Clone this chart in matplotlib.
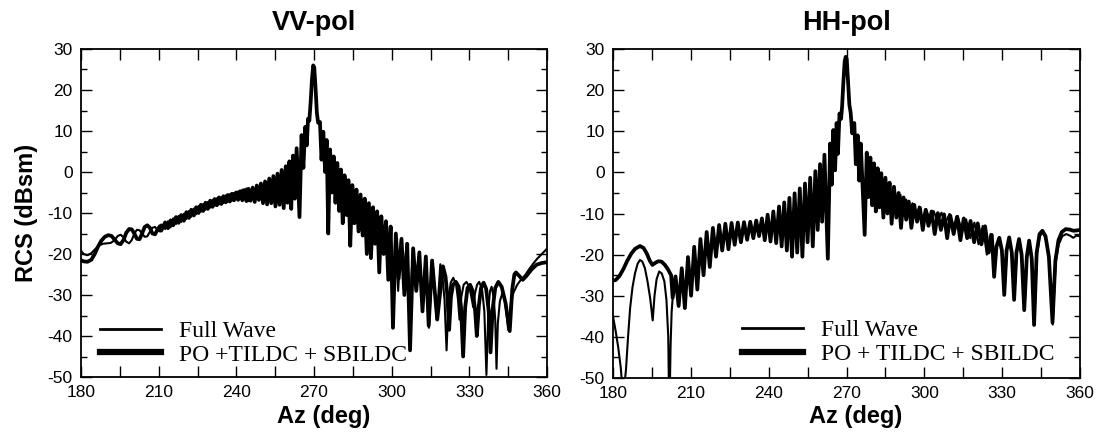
import numpy as np
import matplotlib
matplotlib.use("Agg")
import matplotlib.pyplot as plt
from matplotlib.ticker import MultipleLocator

plt.rcParams['axes.unicode_minus'] = False

# ---------------- VV-pol data (azimuth deg, RCS dBsm) ----------------
vv_po_left_az = [180, 181, 182.5, 184, 185.3, 186.5, 187.8, 189.2, 190.5, 191.8,
                 193, 194.2, 195.3, 196.4, 197.5, 198.6, 199.6, 200.6, 201.6, 202.6,
                 203.6, 204.6, 205.6, 206.6, 207.6, 208.6, 209.6, 210.5]
vv_po_left_db = [-21.5, -21.8, -21.9, -21.4, -20.0, -18.3, -16.8, -15.8, -15.4, -15.6,
                 -16.5, -17.4, -17.6, -16.6, -14.8, -13.9, -14.0, -15.0, -16.3, -16.4,
                 -15.0, -13.4, -13.0, -13.6, -15.0, -15.2, -14.0, -13.2]
vv_fw_left_az = [180, 181, 182.5, 184, 185.5, 187, 188.5, 190, 191.5, 193,
                 194.2, 195.3, 196.4, 197.5, 198.6, 199.6, 200.6, 201.6, 202.6, 203.6,
                 204.6, 205.6, 206.6, 207.6, 208.6, 209.6, 210.5]
vv_fw_left_db = [-19.2, -20.0, -20.3, -19.8, -18.8, -17.9, -17.5, -17.4, -17.3, -16.6,
                 -15.6, -15.3, -15.9, -17.0, -17.4, -16.6, -15.0, -14.1, -14.2, -15.0,
                 -15.8, -15.7, -14.6, -13.6, -13.4, -14.2, -14.5]

vv_ripple_az = [211, 212.5, 213.6, 214.6, 215.6, 216.7, 217.7, 218.7, 219.7, 220.7,
                221.7, 222.6, 223.6, 224.5, 225.4, 226.3, 227.2, 228.1, 229.0, 229.9,
                230.8, 231.6, 232.5, 233.3, 234.2, 235.0, 235.9, 236.7, 237.5, 238.3,
                239.1, 239.9, 240.7, 241.5, 242.3, 243.1, 243.9, 244.7]
vv_po_ripple_db = [-14.3, -12.3, -13.7, -11.8, -13.0, -11.0, -12.4, -10.5, -11.9, -9.8,
                   -11.2, -9.2, -10.6, -8.6, -10.0, -8.0, -9.5, -7.5, -9.0, -7.0,
                   -8.5, -6.6, -8.1, -6.2, -7.8, -5.9, -7.4, -5.6, -7.2, -5.3,
                   -6.9, -5.0, -6.8, -4.7, -6.9, -4.4, -7.1, -4.1]
vv_fw_ripple_db = [-12.8, -13.9, -12.0, -13.5, -11.3, -12.7, -10.7, -12.2, -10.2, -11.5,
                   -9.5, -10.9, -8.9, -10.3, -8.3, -9.7, -7.8, -9.2, -7.3, -8.7,
                   -6.8, -8.3, -6.4, -7.9, -6.1, -7.6, -5.7, -7.3, -5.4, -7.0,
                   -5.1, -6.7, -4.7, -6.6, -4.3, -6.7, -4.0, -7.1]

vv_core_az = [245.5, 246.3, 247.1, 247.9, 248.7, 249.5, 250.3, 251.1, 251.9, 252.7,
              253.5, 254.3, 255.1, 255.9, 256.7, 257.5, 258.3, 259.1, 259.8, 260.5,
              261.2, 261.9, 262.6, 263.3, 264.4, 265.2, 265.9, 266.6, 267.2, 267.7,
              268.2, 268.7, 269.2, 269.7, 270.1, 270.6, 271.1, 271.6, 272.3, 272.9,
              273.6, 274.3, 274.9, 275.5, 276.2, 276.9, 277.6, 278.3, 279.0, 279.7,
              280.4, 281.1, 281.8, 282.6, 283.3, 284.0, 284.8, 285.6, 286.4, 287.2,
              288.0, 288.8, 289.6, 290.4, 291.2, 292.0, 292.8, 293.6, 294.4, 295.2,
              296.0, 296.9, 297.8, 298.7, 299.6, 300.5]
vv_core_db = [-7.0, -3.8, -7.3, -3.3, -6.8, -2.8, -7.6, -2.3, -7.9, -1.6,
              -7.6, -1.0, -8.4, -0.4, -8.0, 0.5, -8.8, 1.4, -7.5, 2.6,
              -9.0, 4.0, -6.5, 5.8, -11.0, 9.0, 1.0, 11.0, 6.5, 13.0,
              12.5, 17.0, 22.5, 26.0, 25.5, 20.5, 14.5, 12.0, 12.2, 3.0,
              9.8, 0.0, 7.8, -15.0, 5.5, -5.0, 3.8, -7.5, 2.2, -9.5,
              0.6, -12.5, -0.8, -10.5, -2.0, -18.0, -3.2, -12.5, -4.3, -14.5,
              -5.5, -15.5, -6.5, -20.0, -7.6, -21.0, -8.6, -17.5, -9.6, -24.5,
              -10.8, -20.0, -12.0, -26.3, -13.3, -38.0]

vv_po_right_az = [301.6, 302.7, 303.8, 304.9, 306.0, 307.1, 308.3, 309.5, 310.7, 311.9,
                  313.2, 314.3, 315.6, 317.6, 319.8, 320.8, 321.5, 322.2, 322.9, 323.7,
                  324.8, 325.9, 326.8, 327.6, 328.4, 329.3, 330.3, 331.3, 332.2, 332.9,
                  333.7, 334.5, 335.5, 336.5, 337.5, 338.2, 339.0, 340.0, 341.2, 342.5,
                  344.0, 345.6, 346.6, 347.4, 348.0, 349.2, 350.6, 352.0, 354.0, 356.0,
                  358.0, 360.0]
vv_po_right_db = [-15.0, -26.0, -16.3, -30.0, -17.5, -43.5, -18.6, -29.0, -19.6, -34.0,
                  -20.6, -37.5, -21.6, -36.0, -23.0, -25.5, -30.0, -38.5, -30.5, -27.5,
                  -26.8, -28.0, -33.0, -45.0, -33.0, -28.3, -27.5, -29.0, -33.5, -40.0,
                  -32.5, -28.3, -27.0, -28.5, -34.0, -44.0, -33.5, -28.3, -26.8, -28.0,
                  -32.0, -38.8, -28.5, -25.0, -24.5, -25.3, -26.3, -25.4, -23.8, -22.6,
                  -22.2, -22.0]
vv_fw_right_az = [301.4, 302.5, 303.6, 304.7, 305.8, 307.0, 308.2, 309.4, 310.6, 311.9,
                  313.2, 314.4, 315.8, 317.4, 318.8, 319.6, 320.4, 321.2, 322.0, 322.8,
                  323.8, 324.9, 325.6, 326.2, 326.9, 327.8, 328.9, 330.0, 330.8, 331.5,
                  332.2, 333.0, 333.8, 334.9, 335.8, 336.6, 337.4, 338.0, 338.6, 339.4,
                  340.0, 340.5, 341.0, 341.8, 342.8, 343.8, 345.0, 346.0, 347.0, 348.5,
                  350.0, 351.5, 353.0, 354.5, 356.0, 358.0, 360.0]
vv_fw_right_db = [-15.2, -29.0, -16.4, -25.0, -17.4, -35.0, -18.6, -27.0, -19.6, -31.0,
                  -20.6, -38.0, -21.5, -36.0, -22.5, -25.5, -31.0, -43.5, -31.0, -27.0,
                  -25.8, -27.5, -31.0, -36.0, -30.5, -27.5, -26.8, -28.0, -30.5, -33.0,
                  -29.5, -27.5, -26.8, -28.5, -34.0, -49.5, -33.0, -29.0, -28.0, -30.5,
                  -36.0, -48.0, -37.0, -31.5, -29.5, -31.5, -38.5, -32.0, -29.5, -27.5,
                  -26.2, -25.2, -23.8, -22.5, -21.3, -20.0, -18.7]

# ---------------- HH-pol data ----------------
hh_po_left_az = [180, 181, 182.5, 184, 185.5, 187, 188.5, 190.4, 191.8, 193,
                 194.2, 195.2, 196.3, 197.5, 198.7, 200, 201.2, 202.4]
hh_po_left_db = [-26.3, -26.2, -25.2, -23.5, -21.5, -19.8, -18.6, -17.9, -18.4, -19.7,
                 -21.5, -22.5, -22.0, -21.6, -21.7, -22.5, -23.6, -25.0]
hh_fw_left_az = [180, 181, 182, 183, 183.9, 185.0, 185.8, 186.6, 187.5, 188.5,
                 189.5, 190.4, 191.3, 192.3, 193.3, 194.3, 195.3, 196.0, 196.8, 197.8,
                 198.8, 199.8, 200.6, 201.3, 201.7, 202.2, 202.6]
hh_fw_left_db = [-35.0, -38.5, -42.5, -47.5, -55.0, -48.0, -40.0, -33.0, -28.0, -24.5,
                 -22.2, -21.3, -21.7, -23.3, -26.5, -30.5, -36.0, -30.0, -26.0, -24.1,
                 -24.6, -26.5, -31.0, -40.0, -60.0, -42.0, -34.0]

hh_core_az = [203.0, 204.1, 205.3, 206.5, 207.7, 208.9, 210.1, 211.3, 212.5, 213.7,
              214.9, 216.1, 217.3, 218.5, 219.7, 220.9, 222.1, 223.3, 224.5, 225.7,
              226.9, 228.1, 229.3, 230.5, 231.7, 232.9, 234.1, 235.2, 236.3, 237.4,
              238.5, 239.6, 240.7, 241.8, 242.9, 244.0, 245.0, 246.0, 247.0, 248.0,
              249.0, 250.0, 251.0, 252.0, 253.0, 254.0, 255.0, 256.0, 257.0, 258.0,
              258.9, 259.8, 260.6, 261.5, 262.8, 263.7, 264.3, 264.9, 265.6, 266.2,
              266.7, 267.3, 267.9, 268.3, 268.8, 269.3, 269.7, 270.1, 270.6, 271.1,
              271.6, 272.2, 273.0, 273.6, 274.3, 274.9, 275.5, 277.0, 277.8, 278.5,
              279.2, 279.9, 280.6, 281.3, 282.0, 282.7, 283.4, 284.2, 285.0, 285.8]
hh_core_db = [-30.5, -25.3, -32.5, -23.3, -33.0, -20.6, -30.0, -18.1, -28.5, -16.2,
              -25.0, -14.5, -23.0, -13.5, -20.5, -12.8, -19.0, -12.5, -18.7, -12.3,
              -17.6, -12.2, -17.0, -12.1, -16.4, -12.0, -16.0, -11.7, -15.5, -11.2,
              -16.5, -10.3, -16.8, -9.5, -17.2, -8.3, -18.0, -7.3, -19.0, -6.2,
              -20.5, -5.1, -19.5, -3.9, -20.5, -2.7, -17.0, -1.3, -18.0, 0.3,
              -14.0, 2.0, -12.0, 4.3, -21.0, 7.0, -3.0, 10.3, 0.5, 12.0,
              4.5, 14.3, 13.0, 16.0, 22.0, 27.0, 28.1, 27.5, 22.0, 16.5,
              14.5, 9.5, 12.0, 2.0, 9.0, -2.0, 7.0, -15.2, 4.8, -6.0,
              3.6, -8.0, 2.2, -9.5, 1.0, -8.5, -0.2, -11.0, -1.3, -10.0]

hh_po_right_az = [286.6, 287.4, 288.3, 289.2, 290.1, 291.0, 292.0, 293.0, 294.0, 295.0,
                  296.1, 297.2, 298.3, 299.4, 300.5, 301.6, 302.8, 304.0, 305.2, 306.4,
                  307.6, 308.8, 310.0, 311.3, 312.6, 313.9, 315.2, 316.5, 317.8, 319.2,
                  320.6, 322.0, 323.4, 324.8, 326.0, 326.9, 327.8, 328.9, 329.9, 330.8,
                  331.7, 332.7, 333.7, 334.6, 335.5, 336.5, 337.5, 338.5, 339.5, 340.4,
                  341.4, 342.3, 343.3, 344.4, 345.5, 346.7, 348.0, 349.4, 350.5, 351.7,
                  353.0, 354.5, 356.0, 357.5, 359.0, 360.0]
hh_po_right_db = [-2.5, -12.5, -3.5, -11.0, -5.0, -13.5, -6.1, -11.5, -7.1, -13.5,
                  -7.9, -12.0, -8.6, -14.0, -9.1, -13.0, -9.5, -15.0, -9.9, -14.0,
                  -10.2, -16.0, -10.5, -15.0, -10.8, -16.5, -11.2, -16.0, -11.8, -17.0,
                  -12.4, -17.5, -13.1, -19.5, -15.2, -25.4, -18.0, -15.9, -19.0, -29.8,
                  -19.0, -15.8, -19.5, -31.0, -19.5, -16.2, -20.0, -33.5, -20.5, -16.6,
                  -21.0, -37.1, -19.5, -15.0, -14.2, -15.5, -20.5, -36.5, -21.5, -16.5,
                  -14.5, -13.8, -13.9, -14.2, -14.1, -14.0]
hh_fw_right_az = [286.6, 287.6, 288.6, 289.7, 290.8, 291.9, 293.0, 294.2, 295.4, 296.7,
                  298.0, 299.3, 300.7, 302.1, 303.6, 305.1, 306.6, 308.1, 309.7, 311.3,
                  312.9, 314.5, 316.1, 317.7, 319.3, 320.9, 322.5, 324.1, 325.5, 326.3,
                  327.0, 327.8, 328.8, 329.9, 330.9, 331.8, 332.8, 333.8, 334.7, 335.6,
                  336.6, 337.6, 338.6, 339.6, 340.5, 341.5, 342.4, 343.4, 344.5, 345.6,
                  346.8, 348.1, 349.5, 350.6, 351.8, 353.2, 354.7, 356.2, 357.4, 358.6,
                  360.0]
hh_fw_right_db = [-3.0, -8.5, -4.3, -9.5, -5.5, -10.0, -6.6, -10.5, -7.5, -11.0,
                  -8.3, -11.3, -8.9, -11.6, -9.4, -12.0, -9.8, -12.3, -10.1, -13.0,
                  -10.6, -14.5, -11.4, -16.0, -12.2, -17.5, -13.0, -20.0, -15.0, -17.5,
                  -24.5, -18.5, -16.2, -19.5, -29.5, -19.0, -16.0, -19.5, -30.5, -19.5,
                  -16.5, -20.0, -33.5, -20.5, -17.0, -21.5, -37.0, -20.0, -15.5, -14.6,
                  -16.0, -21.0, -37.0, -22.0, -17.5, -15.5, -15.0, -15.4, -15.9, -15.4,
                  -15.5]

az_ticks = [180, 195, 210, 225, 240, 255, 270, 285, 300, 315, 330, 345, 360]
az_tick_labels = ['180', '', '210', '', '240', '', '270', '', '300', '', '330', '', '360']
db_ticks = [-50, -40, -30, -20, -10, 0, 10, 20, 30]

# ---------------- figure ----------------
W, H = 1099, 434
fig = plt.figure(figsize=(W / 100, H / 100), dpi=100)
ax1 = fig.add_axes([81 / W, 1 - 377 / H, 466 / W, 328 / H])
ax2 = fig.add_axes([613 / W, 1 - 378 / H, 467 / W, 329 / H])

sans = 'Liberation Sans'
serif = 'Liberation Serif'


def build(*parts):
    az = np.concatenate([np.asarray(p[0], float) for p in parts])
    db = np.concatenate([np.asarray(p[1], float) for p in parts])
    return az, db


panels = [
    (ax1,
     build((vv_fw_left_az, vv_fw_left_db), (vv_ripple_az, vv_fw_ripple_db),
           (vv_core_az, vv_core_db), (vv_fw_right_az, vv_fw_right_db)),
     build((vv_po_left_az, vv_po_left_db), (vv_ripple_az, vv_po_ripple_db),
           (vv_core_az, vv_core_db), (vv_po_right_az, vv_po_right_db)),
     'PO +TILDC + SBILDC', (0.041, 0.035)),
    (ax2,
     build((hh_fw_left_az, hh_fw_left_db), (hh_core_az, hh_core_db),
           (hh_fw_right_az, hh_fw_right_db)),
     build((hh_po_left_az, hh_po_left_db), (hh_core_az, hh_core_db),
           (hh_po_right_az, hh_po_right_db)),
     'PO + TILDC + SBILDC', (0.276, 0.04)),
]

for ax, fw, po, po_label, leg_anchor in panels:
    l_po, = ax.plot(po[0], po[1], color='black', lw=2.7, solid_joinstyle='round')
    l_fw, = ax.plot(fw[0], fw[1], color='black', lw=1.5, solid_joinstyle='round')
    ax.set_xlim(180, 360)
    ax.set_ylim(-50, 30)
    ax.set_xticks(az_ticks)
    ax.set_xticklabels(az_tick_labels)
    ax.set_yticks(db_ticks)
    ax.yaxis.set_minor_locator(MultipleLocator(5))
    ax.tick_params(which='both', direction='in', top=True, right=True,
                   labelsize=12.5, pad=6, width=1.0)
    ax.tick_params(which='major', length=8)
    ax.tick_params(which='minor', length=4)
    for lab in ax.get_xticklabels() + ax.get_yticklabels():
        lab.set_fontfamily(sans)
    for sp in ax.spines.values():
        sp.set_linewidth(1.3)
    leg = ax.legend([l_fw, l_po], ['Full Wave', po_label], loc='lower left',
                    bbox_to_anchor=leg_anchor, frameon=False, borderpad=0,
                    borderaxespad=0, handlelength=2.6, handletextpad=0.75,
                    labelspacing=0.08, prop={'family': serif, 'size': 17})
    leg.get_lines()[0].set_linewidth(2.0)
    leg.get_lines()[1].set_linewidth(4.5)

fig.text(314 / W, 1 - 23 / H, 'VV-pol', ha='center', va='center',
         fontsize=19.5, fontweight='bold', family=sans)
fig.text(846 / W, 1 - 23 / H, 'HH-pol', ha='center', va='center',
         fontsize=19.5, fontweight='bold', family=sans)
fig.text(324 / W, 1 - 417 / H, 'Az (deg)', ha='center', va='center',
         fontsize=17, fontweight='bold', family=sans)
fig.text(856 / W, 1 - 417 / H, 'Az (deg)', ha='center', va='center',
         fontsize=17, fontweight='bold', family=sans)
fig.text(26 / W, 1 - 213 / H, 'RCS (dBsm)', ha='center', va='center',
         rotation=90, fontsize=17, fontweight='bold', family=sans)

fig.savefig('out.png', dpi=100)
